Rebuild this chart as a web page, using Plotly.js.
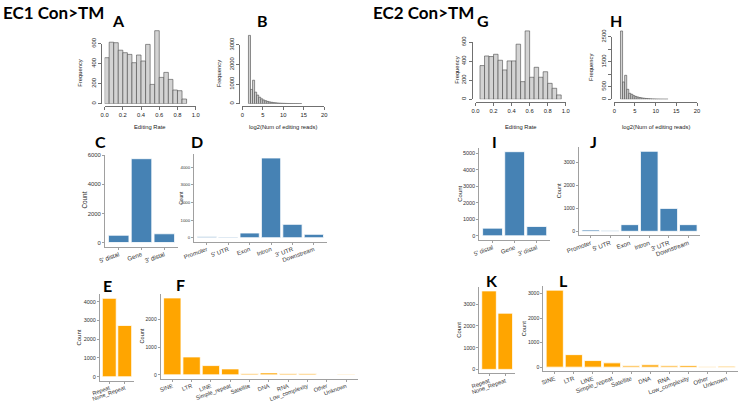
<!DOCTYPE html>
<html><head><meta charset="utf-8">
<script src="https://cdn.plot.ly/plotly-3.0.1.min.js"></script>
<style>html,body{margin:0;padding:0;background:#fff}#p{width:741px;height:401px}</style>
</head><body><div id="p"></div>
<script>
// ---- data ----
var binW_rate = 0.05;
var A_binStart = [0.00,0.05,0.10,0.15,0.20,0.25,0.30,0.35,0.40,0.45,0.50,0.55,0.60,0.65,0.70,0.75,0.80,0.85];
var A_counts   = [460,615,610,535,510,493,410,487,427,593,193,730,263,313,243,137,130,47];
var binW_log = 0.5;
var B_binStart = [1.5,2.0,2.5,3.0,3.5,4.0,4.5,5.0,5.5,6.0,6.5,7.0,7.5,8.0,8.5,9.0,9.5,10.0,10.5,11.0,11.5,12.0,12.5,13.0,13.5,14.0];
var B_counts   = [3490,730,1200,590,440,330,250,190,150,115,90,70,55,45,35,28,22,18,14,11,9,7,5,4,3,2];
var G_binStart = [0.05,0.10,0.15,0.20,0.25,0.30,0.35,0.40,0.45,0.50,0.55,0.60,0.65,0.70,0.75,0.80,0.85,0.90];
var G_counts   = [355,456,450,474,411,309,404,404,580,186,720,232,337,232,290,168,116,46];
var H_binStart = [1.5,2.0,2.5,3.0,3.5,4.0,4.5,5.0,5.5,6.0,6.5,7.0,7.5,8.0,8.5,9.0,9.5,10.0,10.5,11.0,11.5,12.0,12.5];
var H_counts   = [2733,693,960,400,240,200,147,115,90,70,55,42,33,26,20,15,12,9,7,5,4,3,2];

var C_cats = ["5' distal","Gene","3' distal"];
var C_vals = [500,5770,600];
var D_cats = ["Promoter","5' UTR","Exon","Intron","3' UTR","Downstream"];
var D_vals = [50,40,265,4510,755,190];
var E_cats = ["Repeat","None_Repeat"];
var E_vals = [4176,2731];
var F_cats = ["SINE","LTR","LINE","Simple_repeat","Satellite","DNA","RNA","Low_complexity","Other","Unknown"];
var F_vals = [2762,643,333,214,48,71,48,48,5,24];
var I_cats = ["5' distal","Gene","3' distal"];
var I_vals = [464,5100,565];
var J_cats = ["Promoter","5' UTR","Exon","Intron","3' UTR","Downstream"];
var J_vals = [58,30,289,3478,996,289];
var K_cats = ["Repeat","None_Repeat"];
var K_vals = [3614,2588];
var L_cats = ["SINE","LTR","LINE","Simple_repeat","Satellite","DNA","RNA","Low_complexity","Other","Unknown"];
var L_vals = [3133,509,268,174,54,94,54,67,13,40];

// ---- layout helpers ----
var W = 741, H = 401;
var FAM = 'Liberation Sans, Arial, sans-serif';
var traces = [], layout = {
  width: W, height: H, margin:{l:0,r:0,t:0,b:0}, showlegend:false,
  paper_bgcolor:'#fff', plot_bgcolor:'rgba(0,0,0,0)', bargap:0,
  font:{family:FAM, size:7, color:'#222'},
  annotations: []
};
var n = 0;
function nextAxes(){
  n++;
  var s = (n===1?'':String(n));
  return {xa:'xaxis'+s, ya:'yaxis'+s, xs:'x'+s, ys:'y'+s};
}

function ann(text, xpx, ypx, opts){
  var a = Object.assign({text:text, x:xpx/W, y:1-ypx/H, xref:'paper', yref:'paper',
    showarrow:false, xanchor:'center', yanchor:'middle',
    font:{family:FAM, size:6, color:'#222'}}, opts||{});
  layout.annotations.push(a);
}

// histogram panel (base R style). px: l,r = x pixel of xr[0], xr[1]; y0 = pixel of count 0; k = px per count
function hist(starts, counts, bw, px, xr, xt, yt, ytl, xtitle, ylabelX){
  var tf = {family:FAM, size:5.8, color:'#222'};
  var lc = '#333';
  var yTop = Math.max.apply(null, counts)*1.08;
  var lastTick = yt[yt.length-1];
  // data subplot
  var a = nextAxes();
  traces.push({type:'bar', x:starts.map(function(s){return s+bw/2;}), y:counts, width:bw,
    xaxis:a.xs, yaxis:a.ys, marker:{color:'#D3D3D3', line:{color:'#4a4a4a', width:0.6}}, hoverinfo:'skip'});
  layout[a.xa] = {domain:[px.l/W, px.r/W], range:xr, anchor:'free', position:1-px.xline/H,
    showline:true, linecolor:lc, linewidth:0.7, ticks:'outside', ticklen:3, tickcolor:lc, tickwidth:0.7,
    tickvals:xt, ticktext:xt.map(function(v){return xr[1]<=1? v.toFixed(1): String(v);}),
    showgrid:false, zeroline:false, tickfont:tf, fixedrange:true};
  layout[a.ya] = {domain:[1-px.y0/H, 1-(px.y0-yTop*px.k)/H], range:[0,yTop], anchor:a.xs,
    visible:false, fixedrange:true};
  // axis-only subplot: R draws the y axis line only across the tick range
  var b = nextAxes();
  traces.push({type:'scatter', mode:'markers', x:[], y:[], xaxis:b.xs, yaxis:b.ys, hoverinfo:'skip'});
  layout[b.xa] = {domain:[px.l/W, px.r/W], range:xr, anchor:'free', position:0, visible:false, fixedrange:true};
  layout[b.ya] = {domain:[1-px.y0/H, 1-(px.y0-lastTick*px.k)/H], range:[0,lastTick], anchor:'free', position:px.yline/W,
    showline:true, linecolor:lc, linewidth:0.7, ticks:'outside', ticklen:3, tickcolor:lc, tickwidth:0.7,
    tickvals:yt, ticktext:ytl, tickangle:-90, showgrid:false, zeroline:false, tickfont:tf, fixedrange:true};
  ann(xtitle, (px.l+px.r)/2, px.xtitleY, {font:{family:FAM, size:5.8, color:'#222'}});
  ann('Frequency', ylabelX, px.y0-lastTick*px.k/2, {textangle:-90, font:{family:FAM, size:5.8, color:'#222'}});
}

// ggplot classic style bar panel
function gbar(cats, vals, color, px, yt){
  var a = nextAxes();
  var M = Math.max.apply(null, vals);
  traces.push({type:'bar', x:cats, y:vals, width:0.9, xaxis:a.xs, yaxis:a.ys,
    marker:{color:color, line:{color:'#fff', width:0.8}}, hoverinfo:'skip'});
  layout[a.xa] = {domain:[px.l/W, px.r/W], range:[-0.6, cats.length-0.4], anchor:a.ys, type:'category',
    showline:true, linecolor:'#a0a0a0', linewidth:1, ticks:'outside', ticklen:2, tickcolor:'#a0a0a0',
    tickangle:-20, ticklabelstandoff:-1, showgrid:false, zeroline:false,
    tickfont:{family:FAM, size:px.xs, color:'#333'}, fixedrange:true};
  layout[a.ya] = {domain:[1-px.b/H, 1-px.t/H], range:[-0.05*M, 1.05*M], anchor:a.xs,
    showline:true, linecolor:'#a0a0a0', linewidth:1, ticks:'outside', ticklen:2, tickcolor:'#a0a0a0',
    tickvals:yt, showgrid:false, zeroline:false, tickfont:{family:FAM, size:px.ys, color:'#333'}, fixedrange:true};
  ann('Count', px.cx, (px.b+px.t)/2, {textangle:-90, font:{family:FAM, size:px.cs || (px.ys+0.5), color:'#222'}});
}

var BLUE = '#4682B4', ORANGE = '#FFA500';
var rateTicks = [0,0.2,0.4,0.6,0.8,1.0], logTicks = [0,5,10,15,20];

// A
hist(A_binStart, A_counts, binW_rate, {l:104.6, r:195.7, y0:103.7, k:0.1, xline:106.6, yline:100.9, xtitleY:127},
  [0,1], rateTicks, [0,200,400,600], ['0','200','400','600'], 'Editing Rate', 80);
// B
hist(B_binStart, B_counts, binW_log, {l:242.3, r:324.3, y0:103.7, k:0.01957, xline:106.6, yline:239, xtitleY:127},
  [0,20], logTicks, [0,1000,2000,3000], ['0','1000','2000','3000'], 'log2(Num of editing reads)', 219);
// G
hist(G_binStart, G_counts, binW_rate, {l:475.5, r:565.7, y0:99.3, k:0.095, xline:102.2, yline:471.8, xtitleY:126.7},
  [0,1], rateTicks, [0,200,400,600], ['0','200','400','600'], 'Editing Rate', 457);
// H
hist(H_binStart, H_counts, binW_log, {l:614.3, r:697, y0:99.3, k:0.025, xline:102.2, yline:611, xtitleY:126.7},
  [0,20], logTicks, [0,500,1000,1500,2000,2500], ['0','500','','1500','','2500'], 'log2(Num of editing reads)', 591);

// C, D, E, F
gbar(C_cats, C_vals, BLUE,   {l:105, r:178, b:246.7, t:154.5, cx:85, ys:5.9, xs:6.2}, [0,2000,4000,6000]);
gbar(D_cats, D_vals, BLUE,   {l:194, r:326.7, b:241.7, t:154, cx:181, ys:4.3, cs:5, xs:6}, [0,1000,2000,3000,4000]);
gbar(E_cats, E_vals, ORANGE, {l:100, r:134, b:380.7, t:294.4, cx:79, ys:5.5, xs:5.6}, [0,1000,2000,3000,4000]);
gbar(F_cats, F_vals, ORANGE, {l:160.7, r:357.7, b:378.7, t:294.1, cx:142, ys:5, xs:5.7}, [0,1000,2000]);
// I, J, K, L
gbar(I_cats, I_vals, BLUE,   {l:479.3, r:550, b:240, t:147.5, cx:460, ys:5.5, xs:6}, [0,1000,2000,3000,4000,5000]);
gbar(J_cats, J_vals, BLUE,   {l:579, r:700, b:235.3, t:147.3, cx:559, ys:5.1, xs:6.2}, [0,1000,2000,3000]);
gbar(K_cats, K_vals, ORANGE, {l:479.3, r:515, b:373.3, t:287, cx:459.5, ys:5.3, xs:5.8}, [0,1000,2000,3000]);
gbar(L_cats, L_vals, ORANGE, {l:543.3, r:738, b:371, t:286.3, cx:523.5, ys:5.1, xs:6}, [0,1000,2000,3000]);

// titles & panel letters
var TF = {family:'Lato, Open Sans, sans-serif', size:17, color:'#000'};
ann('<b>EC1 Con&gt;TM</b>', 1, 13, {xanchor:'left', font:TF});
ann('<b>EC2 Con&gt;TM</b>', 371, 13, {xanchor:'left', font:TF});
var LF = {family:'Lato, Open Sans, sans-serif', size:16, color:'#000'};
[['A',118,21],['B',262,21],['C',100,142],['D',197,141],['E',108,285],['F',180,284],
 ['G',483,21],['H',616,21],['I',494,142],['J',593,141],['K',492,280],['L',563,280]].forEach(function(l){
  ann('<b>'+l[0]+'</b>', l[1], l[2], {font:LF});
});

Plotly.newPlot('p', traces, layout, {staticPlot:true, displayModeBar:false});
</script>
</body></html>
